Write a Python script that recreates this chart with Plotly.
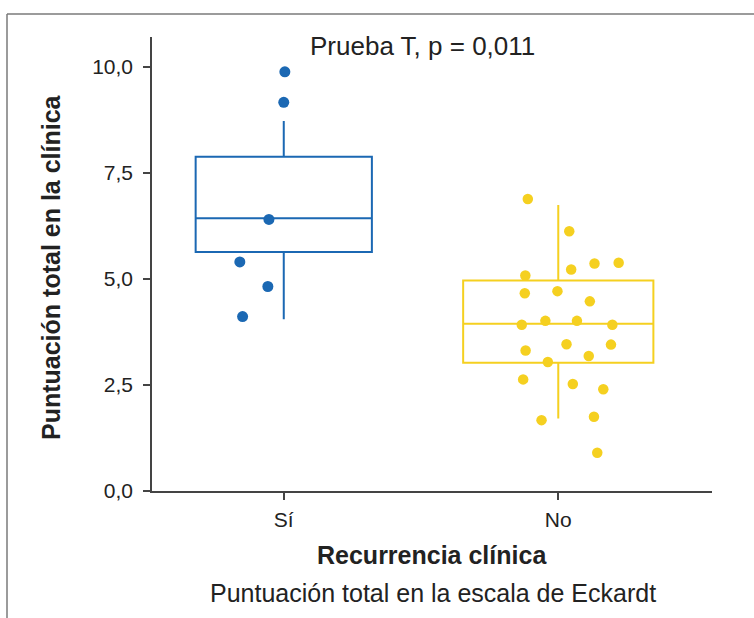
import plotly.graph_objects as go

# ---- data ----
categories = ["Sí", "No"]
cat_pos = [0, 1]

# box statistics
box_q1 = [5.63, 3.02]
box_median = [6.43, 3.94]
box_q3 = [7.88, 4.96]
box_lower = [4.05, 1.71]
box_upper = [8.72, 6.74]
box_widths = [0.642, 0.693]

# individual points: group "Sí"
si_values = [9.88, 9.16, 6.40, 5.40, 4.82, 4.11]
si_jitter = [0.004, 0.0, -0.054, -0.16, -0.058, -0.15]

# individual points: group "No"
no_values = [6.88, 6.12, 5.22, 5.36, 5.38, 5.08, 4.66, 4.71, 4.47, 3.92, 4.01, 4.01,
             3.92, 3.31, 3.46, 3.45, 3.18, 3.04, 2.63, 2.52, 2.40, 1.67, 1.75, 0.90]
no_jitter = [-0.111, 0.040, 0.047, 0.132, 0.220, -0.120, -0.122, -0.003, 0.115, -0.133,
             -0.047, 0.068, 0.197, -0.119, 0.030, 0.192, 0.111, -0.038, -0.128, 0.053,
             0.164, -0.061, 0.130, 0.142]

y_ticks = [0, 2.5, 5, 7.5, 10]
y_ticktext = ["0,0", "2,5", "5,0", "7,5", "10,0"]

colors = ["#1b68b3", "#f5d020"]
FONT = "Liberation Sans, Arial, sans-serif"
TXT = "#222222"

fig = go.Figure()

for i in range(2):
    fig.add_trace(go.Box(
        x=[cat_pos[i]], q1=[box_q1[i]], median=[box_median[i]], q3=[box_q3[i]],
        lowerfence=[box_lower[i]], upperfence=[box_upper[i]],
        width=box_widths[i], fillcolor="rgba(255,255,255,0)",
        line=dict(color=colors[i], width=2), whiskerwidth=0,
        boxpoints=False, showlegend=False, hoverinfo="skip",
    ))

fig.add_trace(go.Scatter(
    x=[cat_pos[0] + j for j in si_jitter], y=si_values, mode="markers",
    marker=dict(color=colors[0], size=11, line=dict(width=0)), showlegend=False,
))
fig.add_trace(go.Scatter(
    x=[cat_pos[1] + j for j in no_jitter], y=no_values, mode="markers",
    marker=dict(color=colors[1], size=10.5, line=dict(width=0)), showlegend=False,
))

W, H = 754, 618
L, R, T, B = 152, 754 - 712, 37, 618 - 491
pw, ph = W - L - R, H - T - B

def px(x):
    return (x - L) / pw

def py(y):
    return (H - B - y) / ph

fig.update_layout(
    width=W, height=H,
    margin=dict(l=L, r=R, t=T, b=B, pad=0),
    plot_bgcolor="white", paper_bgcolor="white",
    font=dict(family=FONT, color=TXT, size=21),
    xaxis=dict(
        range=[-0.48, 1.56], tickvals=cat_pos, ticktext=categories,
        showline=True, linecolor="#444444", linewidth=1.5,
        ticks="outside", ticklen=7, tickwidth=1.5, tickcolor="#444444",
        showgrid=False, zeroline=False, tickfont=dict(size=21, color=TXT),
        ticklabelstandoff=2,
    ),
    yaxis=dict(
        range=[0, 10.7], tickvals=y_ticks, ticktext=y_ticktext,
        showline=True, linecolor="#444444", linewidth=1.5,
        ticks="outside", ticklen=7, tickwidth=1.5, tickcolor="#444444",
        showgrid=False, zeroline=False, tickfont=dict(size=21, color=TXT),
        ticklabelstandoff=6,
    ),
    annotations=[
        dict(text="Prueba T, p = 0,011", x=px(422), y=py(46), xref="paper", yref="paper",
             showarrow=False, font=dict(size=26, color=TXT), xanchor="center", yanchor="middle"),
        dict(text="<b>Puntuación total en la clínica</b>", x=px(51), y=py(267),
             xref="paper", yref="paper", showarrow=False, textangle=-90,
             font=dict(size=25, color=TXT), xanchor="center", yanchor="middle"),
        dict(text="<b>Recurrencia clínica</b>", x=px(432), y=py(555), xref="paper", yref="paper",
             showarrow=False, font=dict(size=25, color=TXT), xanchor="center", yanchor="middle"),
        dict(text="Puntuación total en la escala de Eckardt", x=px(433), y=py(593),
             xref="paper", yref="paper", showarrow=False,
             font=dict(size=25, color=TXT), xanchor="center", yanchor="middle"),
    ],
    shapes=[
        dict(type="line", xref="paper", yref="paper", x0=px(7), x1=px(7), y0=py(14), y1=py(620),
             line=dict(color="#7a7a7a", width=1.5)),
        dict(type="line", xref="paper", yref="paper", x0=px(7), x1=px(756), y0=py(14), y1=py(14),
             line=dict(color="#7a7a7a", width=1.5)),
    ],
)

fig.write_html(
    "out.html",
    config={"displayModeBar": False},
    post_script="document.body.style.margin='0';document.body.style.overflow='hidden';",
)
